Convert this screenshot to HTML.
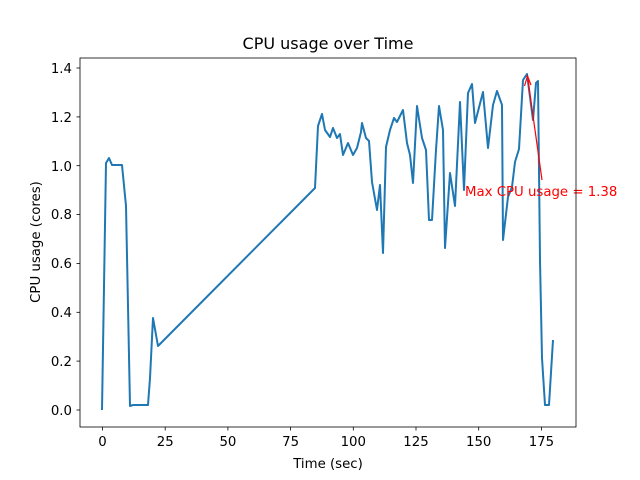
<!DOCTYPE html>
<html><head><style>body{margin:0;background:#fff}svg{display:block}text{font-family:"DejaVu Sans","Liberation Sans",sans-serif;fill:#000}</style></head><body>
<svg width="640" height="480" viewBox="0 0 640 480" xmlns="http://www.w3.org/2000/svg">
<rect width="640" height="480" fill="#fff"/>
<g stroke="#000" stroke-width="0.8">
<line x1="102.5" y1="427" x2="102.5" y2="430.5"/><line x1="165.2" y1="427" x2="165.2" y2="430.5"/><line x1="227.9" y1="427" x2="227.9" y2="430.5"/><line x1="290.6" y1="427" x2="290.6" y2="430.5"/><line x1="353.3" y1="427" x2="353.3" y2="430.5"/><line x1="416" y1="427" x2="416" y2="430.5"/><line x1="478.7" y1="427" x2="478.7" y2="430.5"/><line x1="541.4" y1="427" x2="541.4" y2="430.5"/>
<line x1="76.5" y1="410" x2="80" y2="410"/><line x1="76.5" y1="361.1" x2="80" y2="361.1"/><line x1="76.5" y1="312.3" x2="80" y2="312.3"/><line x1="76.5" y1="263.4" x2="80" y2="263.4"/><line x1="76.5" y1="214.6" x2="80" y2="214.6"/><line x1="76.5" y1="165.7" x2="80" y2="165.7"/><line x1="76.5" y1="116.9" x2="80" y2="116.9"/><line x1="76.5" y1="68" x2="80" y2="68"/>
</g>
<g font-size="13.3" text-anchor="middle">
<text x="102.5" y="446">0</text><text x="165.2" y="446">25</text><text x="227.9" y="446">50</text><text x="290.6" y="446">75</text><text x="353.3" y="446">100</text><text x="416" y="446">125</text><text x="478.7" y="446">150</text><text x="541.4" y="446">175</text>
<text x="328" y="468">Time (sec)</text>
<text x="328" y="49" font-size="16">CPU usage over Time</text>
</g>
<g font-size="13.3" text-anchor="end">
<text x="72" y="415">0.0</text><text x="72" y="366">0.2</text><text x="72" y="317">0.4</text><text x="72" y="268">0.6</text><text x="72" y="219">0.8</text><text x="72" y="171">1.0</text><text x="72" y="122">1.2</text><text x="72" y="73">1.4</text>
</g>
<text x="40" y="242" font-size="13.3" text-anchor="middle" transform="rotate(-90 40 242)">CPU usage (cores)</text>
<polyline fill="none" stroke="#1f77b4" stroke-width="2" stroke-linejoin="round" points="102,410 106,163 109,158 112,165 122,165 126,206 130,406 133,405 148,405 150,378 153,318 158,346 315,188 318,126 322,114 325,130 330,137 333,128 337,138 340,134 343,155 348,143 353,155 357,148 361,132 362,123 366,138 369,141 372,182 377,210 380,185 383,253 386,147 390,130 394,118 397,122 403,110 407,143 410,155 413,183 417,106 422,138 426,150 429,220 432,220 436,150 439,106 443,130 445,248 450,173 455,206 460,102 464,190 468,93 472,84 475,123 483,92 488,148 493,105 497,91 502,105 503,240 508,197 512,187 515,162 519,149 523,80 527,74 533,120 536,83 538,81 540,260 542,358 545,405 549,405 553,340"/>
<line x1="542" y1="180" x2="528" y2="80" stroke="red" stroke-width="1.2"/>
<polyline points="524.5,86 527.5,76 531,85" fill="none" stroke="red" stroke-width="1.2"/>
<text x="465" y="196" font-size="13.3" style="fill:red">Max CPU usage = 1.38</text>
<rect x="80" y="58" width="496" height="369" fill="none" stroke="#000" stroke-width="0.8"/>
</svg>
</body></html>
